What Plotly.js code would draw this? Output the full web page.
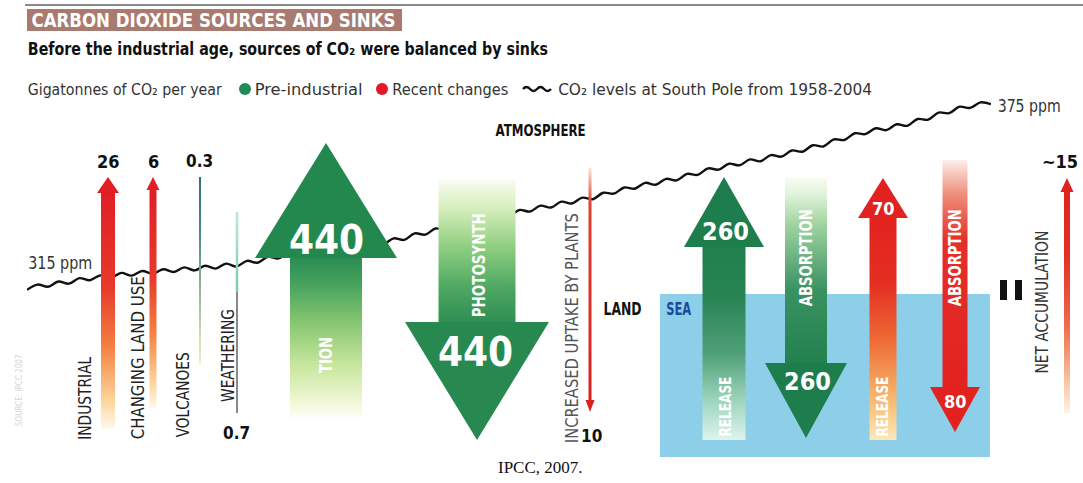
<!DOCTYPE html>
<html><head><meta charset="utf-8">
<script src="https://cdn.plot.ly/plotly-3.0.1.min.js"></script>
<style>html,body{margin:0;padding:0;background:#fff;}#chart{width:1083px;height:483px;}</style>
</head><body><div id="chart"></div>
<script>
// ---------------- DATA ----------------
// CO2 at South Pole, 1958-2004 (ppm) (half-year steps)
const co2Year = [1958,1958.5,1959,1959.5,1960,1960.5,1961,1961.5,1962,1962.5,1963,1963.5,1964,1964.5,1965,1965.5,1966,1966.5,1967,1967.5,1968,1968.5,1969,1969.5,1970,1970.5,1971,1971.5,1972,1972.5,1973,1973.5,1974,1974.5,1975,1975.5,1976,1976.5,1977,1977.5,1978,1978.5,1979,1979.5,1980,1980.5,1981,1981.5,1982,1982.5,1983,1983.5,1984,1984.5,1985,1985.5,1986,1986.5,1987,1987.5,1988,1988.5,1989,1989.5,1990,1990.5,1991,1991.5,1992,1992.5,1993,1993.5,1994,1994.5,1995,1995.5,1996,1996.5,1997,1997.5,1998,1998.5,1999,1999.5,2000,2000.5,2001,2001.5,2002,2002.5,2003,2003.5,2004];
const co2Ppm = [314.4,316.1,315.4,317.1,316.4,318.2,317.5,319.1,318.3,319.9,319.0,320.5,319.6,321.1,320.2,321.7,320.7,322.2,321.3,322.9,322.0,323.8,323.2,325.1,324.6,326.3,325.5,327.2,326.4,328.1,327.4,329.1,328.3,330.0,329.2,331.1,330.6,332.7,332.3,334.3,333.8,335.8,335.3,337.3,336.9,338.9,338.4,340.3,339.8,341.7,341.1,343.0,342.4,344.3,343.8,345.9,345.6,347.6,347.2,349.1,348.5,350.4,349.9,352.0,351.7,353.8,353.4,355.3,354.8,356.7,356.1,358.1,357.6,359.6,359.2,361.3,360.9,363.2,363.0,365.2,364.9,366.8,366.2,368.1,367.6,369.8,369.6,371.9,371.7,373.8,373.4,375.2,374.6];
const co2EndLabels = ['315 ppm', '375 ppm'];

// Fluxes, gigatonnes of CO2 per year
const flowNames  = ['INDUSTRIAL','CHANGING LAND USE','VOLCANOES','WEATHERING','RESPIRATION','PHOTOSYNTHESIS','INCREASED UPTAKE BY PLANTS','RELEASE','ABSORPTION','RELEASE','ABSORPTION','NET ACCUMULATION'];
const flowShown  = ['INDUSTRIAL','CHANGING LAND USE','VOLCANOES','WEATHERING','TION','PHOTOSYNTH','INCREASED UPTAKE BY PLANTS','RELEASE','ABSORPTION','RELEASE','ABSORPTION','NET ACCUMULATION'];
const flowValues = [26, 6, 0.3, 0.7, 440, 440, 10, 260, 260, 70, 80, 15];
const flowApprox = [false,false,false,false,false,false,false,false,false,false,false,true];
const flowKind   = ['recent','recent','pre','pre','pre','pre','recent','pre','pre','recent','recent','recent'];
const flowDir    = ['up','up','up','down','up','down','down','up','down','up','down','up'];

const legendItems = ['Pre-industrial', 'Recent changes'];
const legendUnit = 'Gigatonnes of CO\u2082 per year';
const legendLine = 'CO\u2082 levels at South Pole from 1958-2004';
const titleText = 'CARBON DIOXIDE SOURCES AND SINKS';
const subtitleText = 'Before the industrial age, sources of CO\u2082 were balanced by sinks';
const sourceText = 'IPCC, 2007.';

// ---------------- STYLE / LAYOUT ----------------
const W = 1083, H = 483;
const Y = py => H - py;
const FAM = "'Liberation Sans Narrow','DejaVu Sans Condensed','Liberation Sans',Arial,sans-serif";
const SERIF = "'Liberation Serif','DejaVu Serif',serif";
const RED_GRAD = [[0,'#fff8ea'],[0.12,'#fbd49a'],[0.35,'#f37f40'],[0.6,'#e8392b'],[1,'#e01f25']];
// geometry per flow (pixels from top-left). up: tip<base<end ; down: end<base<tip
// lab: [centerX, centerY, length, colour, bold, size]   val: [x, y, size, colour]
const geo = [
  {x:108, sw:14, hw:22, tip:177, base:193, end:428, head:'#e01f25', grad:RED_GRAD,
   lab:[84,398,83,'#222',false,18], val:[108,161,18,'#111']},
  {x:153, sw:7, hw:13, tip:177, base:190, end:408, head:'#e01f25', grad:RED_GRAD,
   lab:[137,358,163,'#222',false,18], val:[153,161,18,'#111']},
  {x:200, sw:2, hw:0, tip:177, base:177, end:365, head:'#2f6d7c', grad:[[0,'#f4f1c8'],[0.3,'#a9c79a'],[0.7,'#4d8a88'],[1,'#2f6d7c']],
   lab:[182,395,85,'#222',false,18], val:[199,161,17,'#111']},
  {x:237, sw:2.5, hw:0, tip:292, base:292, end:212, head:'#86cdbd', grad:[[0,'#7cc7b6'],[1,'#bfe6dc']],
   lab:[227,356,93,'#222',false,18], val:[236,433,17,'#111'], stem:[292,413]},
  {x:326, sw:72, hw:142, tip:143, base:258, end:420, head:'#23884e', grad:[[0,'#ffffff'],[0.1,'#f2f8d8'],[0.35,'#c5e59a'],[0.6,'#86c671'],[0.85,'#44a05c'],[1,'#2b8c52']],
   lab:[326,355,36,'#fff',true,17], val:[326,240,40,'#fff']},
  {x:477, sw:77, hw:144, tip:440, base:322, end:180, head:'#27894f', grad:[[0,'#2f8e54'],[0.25,'#4fa862'],[0.55,'#94d184'],[0.8,'#d5eebb'],[1,'#f9fcef']],
   lab:[478,265,104,'#fff',true,18], val:[475,352,40,'#fff']},
  {x:590, sw:3, hw:9, tip:412, base:400, end:168, head:'#d9201f', grad:[[0,'#d9201f'],[0.85,'#e2402e'],[1,'#fbe3dc']],
   lab:[572,328,230,'#555',false,17], val:[591,436,17,'#111']},
  {x:724, sw:43, hw:80, tip:177, base:247, end:440, head:'#1e7d4d', grad:[[0,'#dff3ee'],[0.2,'#9ed6bd'],[0.45,'#4f9f78'],[0.75,'#268352'],[1,'#22804f']],
   lab:[726,407,60,'#fff',true,15], val:[725,231,25,'#fff']},
  {x:806, sw:42, hw:82, tip:438, base:363, end:178, head:'#1e7d4d', grad:[[0,'#22804f'],[0.4,'#3a9262'],[0.75,'#9fd4a0'],[0.92,'#e4f4dc'],[1,'#f7fbf2']],
   lab:[806,258,97,'#fff',true,17], val:[807,381,25,'#fff']},
  {x:883, sw:27, hw:50, tip:178, base:218, end:440, head:'#e2221f', grad:[[0,'#fbe9b8'],[0.2,'#f7b46a'],[0.45,'#ee6a35'],[0.7,'#e42f22'],[1,'#e2221f']],
   lab:[883,407,60,'#fff',true,15], val:[883,208,18,'#fff']},
  {x:955, sw:25, hw:50, tip:432, base:387, end:160, head:'#e2221f', grad:[[0,'#e2221f'],[0.65,'#e4302a'],[0.85,'#ef8e7c'],[1,'#fdeeea']],
   lab:[955,258,97,'#fff',true,17], val:[955,401,18,'#fff']},
  {x:1067, sw:6, hw:13, tip:178, base:192, end:413, head:'#e2221f', grad:[[0,'#fdf3e6'],[0.15,'#f8c1a0'],[0.4,'#ee6a4a'],[0.7,'#e43027'],[1,'#e2221f']],
   lab:[1042,302,143,'#333',false,17], val:[1060,161,18,'#111']}
];

const traces = [];
// CO2 wavy line on its own year/ppm axes
traces.push({type:'scatter', mode:'lines', x:co2Year, y:co2Ppm, xaxis:'x', yaxis:'y',
  line:{color:'#111', width:2.4, shape:'spline', smoothing:1}, hoverinfo:'skip', showlegend:false});

function rectTrace(l, r, top, bot, grad, solid) {
  const t = {type:'scatter', mode:'lines', xaxis:'x2', yaxis:'y2',
    x:[l,r,r,l,l], y:[top,top,bot,bot,top].map(Y), fill:'toself',
    line:{width:0, color:'rgba(0,0,0,0)'}, fillcolor:solid, hoverinfo:'skip', showlegend:false};
  if (grad) t.fillgradient = {type:'vertical', start:Y(bot), stop:Y(top), colorscale:grad};
  return t;
}
geo.forEach((g, i) => {
  const up = flowDir[i] === 'up';
  const l = g.x - g.sw/2, r = g.x + g.sw/2;
  let top, bot;
  if (up) { top = g.base - (g.hw ? 0.6 : 0); bot = g.end; } else { top = g.end; bot = g.base + (g.hw ? 0.6 : 0); }
  traces.push(rectTrace(l, r, top, bot, g.grad, g.head));
  if (g.hw) {
    const hl = g.x - g.hw/2, hr = g.x + g.hw/2;
    traces.push({type:'scatter', mode:'lines', xaxis:'x2', yaxis:'y2',
      x:[hl, g.x, hr, hl], y:[g.base, g.tip, g.base, g.base].map(Y), fill:'toself',
      line:{width:0, color:'rgba(0,0,0,0)'}, fillcolor:g.head, hoverinfo:'skip', showlegend:false});
  }
  if (g.stem) traces.push(rectTrace(g.x - 0.6, g.x + 0.6, g.stem[0], g.stem[1], null, '#3a3a3a'));
});

// annotations; "span" = target text length in px (applied as SVG textLength after drawing)
const annotations = [], spans = [];
function A(text, x, py, size, color, o, span, weight, family) {
  annotations.push(Object.assign({xref:'x2', yref:'y2', x:x, y:Y(py), text:text, showarrow:false,
    xanchor:'center', yanchor:'middle', borderpad:0,
    font:{family:family || FAM, size:size, color:color, weight:weight || 'normal'}}, o || {}));
  spans.push(span || 0);
}
A(titleText, 31 + 182, 20, 19, '#fff', null, 364, 'bold');
A(subtitleText, 28 + 260, 49, 17, '#111', null, 520, 'bold');
A(legendUnit, 28 + 97, 89, 16, '#333', null, 194);
A(legendItems[0], 254 + 54, 89, 16, '#333', null, 108);
A(legendItems[1], 392 + 58, 89, 16, '#333', null, 116);
A(legendLine, 558 + 157, 89, 16, '#333', null, 314);
A(co2EndLabels[1], 997 + 32, 106, 17, '#333', null, 63);
A(co2EndLabels[0], 28 + 32, 263, 17, '#333', null, 64);
A('ATMOSPHERE', 540, 131, 15, '#111', null, 90, 'bold');
A('LAND', 622, 309, 17, '#111', null, 38, 'bold');
A('SEA', 678, 309, 17, '#1b4a9c', null, 25, 'bold');
geo.forEach((g, i) => {
  const [lx, ly, span, col, bold, size] = g.lab;
  A(flowShown[i], lx, ly, size, col, {textangle:-90}, span, bold ? 'bold' : 'normal');
  const [vx, vy, vs, vc] = g.val;
  A((flowApprox[i] ? '~' : '') + flowValues[i], vx, vy, vs, vc, null, 0, 'bold');
});
A('SOURCE: IPCC 2007', 19, 390, 8, '#d4d4d4', {textangle:-90});
A(sourceText, 540, 467, 17, '#111', null, 0, 'normal', SERIF);

const kindColor = {pre:'#1f8a55', recent:'#e3162a'};
const shapes = [
  {type:'line', xref:'x2', yref:'y2', x0:25, x1:W, y0:Y(5), y1:Y(5), line:{color:'#8a8a8a', width:2}, layer:'below'},
  {type:'rect', xref:'x2', yref:'y2', x0:27, x1:402, y0:Y(9), y1:Y(31), fillcolor:'#a87a70', line:{width:0}, layer:'below'},
  {type:'rect', xref:'x2', yref:'y2', x0:660, x1:990, y0:Y(294), y1:Y(457), fillcolor:'#8dcfe9', line:{width:0}, layer:'below'},
  {type:'circle', xref:'x2', yref:'y2', x0:239, x1:251, y0:Y(95), y1:Y(83), fillcolor:kindColor.pre, line:{width:0}},
  {type:'circle', xref:'x2', yref:'y2', x0:376, x1:388, y0:Y(95), y1:Y(83), fillcolor:kindColor.recent, line:{width:0}},
  {type:'path', xref:'x2', yref:'y2', path:`M523,${Y(89)} Q526.5,${Y(85)} 530,${Y(89)} T537,${Y(89)} T544,${Y(89)} T551,${Y(89)}`, line:{color:'#111', width:2.4}},
  {type:'rect', xref:'x2', yref:'y2', x0:1000, x1:1007, y0:Y(280), y1:Y(300), fillcolor:'#111', line:{width:0}},
  {type:'rect', xref:'x2', yref:'y2', x0:1015, x1:1022, y0:Y(280), y1:Y(300), fillcolor:'#111', line:{width:0}}
];

const ppmPx = ppm => 288 - (ppm - 315) * 185 / 60;
const layout = {
  width:W, height:H, margin:{l:0, r:0, t:0, b:0}, paper_bgcolor:'#ffffff', plot_bgcolor:'rgba(0,0,0,0)', showlegend:false,
  xaxis:{domain:[27/W, 991/W], range:[1958, 2004], visible:false, fixedrange:true},
  yaxis:{domain:[(H - ppmPx(313))/H, (H - ppmPx(377))/H], range:[313, 377], visible:false, fixedrange:true},
  xaxis2:{domain:[0,1], range:[0,W], visible:false, anchor:'y2', fixedrange:true},
  yaxis2:{domain:[0,1], range:[0,H], visible:false, anchor:'x2', fixedrange:true},
  shapes:shapes, annotations:annotations
};
Plotly.newPlot('chart', traces, layout, {staticPlot:true, displayModeBar:false}).then(() => {
  document.querySelectorAll('#chart g.annotation').forEach(g => {
    const i = +g.getAttribute('data-index');
    if (spans[i]) {
      const t = g.querySelector('text.annotation-text');
      if (t) { t.setAttribute('textLength', spans[i]); t.setAttribute('lengthAdjust', 'spacingAndGlyphs'); }
    }
  });
});
</script></body></html>
